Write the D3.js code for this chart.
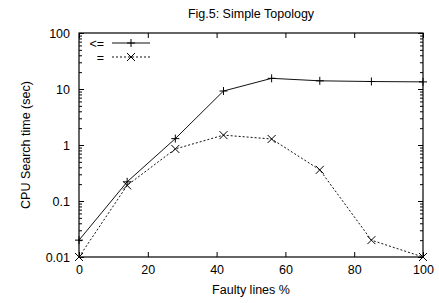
<!DOCTYPE html>
<html>
<head>
<meta charset="utf-8">
<script src="https://cdn.jsdelivr.net/npm/d3@7"></script>
<style>
  body { margin: 0; background: #fff; }
  text { font-family: "Liberation Sans", Arial, sans-serif; fill: #000; }
</style>
</head>
<body>
<svg id="chart" width="439" height="303"></svg>
<script>
// data
const faulty = [0, 14, 28, 42, 56, 70, 85, 100];
const lessEq = [0.02, 0.22, 1.3, 9.2, 15.5, 14, 13.6, 13.4];
const equal = [0.01, 0.19, 0.85, 1.5, 1.28, 0.36, 0.02, 0.01];
const xTicks = [0, 20, 40, 60, 80, 100];
const yTicks = [0.01, 0.1, 1, 10, 100];
const seriesNames = ["<=", "="];

const fontSize = 12.5;

const svg = d3.select("#chart");
const margin = { top: 33, right: 16, bottom: 46, left: 79 };
const width = 439 - margin.left - margin.right;
const height = 303 - margin.top - margin.bottom;

const g = svg.append("g")
    .attr("transform", `translate(${margin.left}, ${margin.top})`);

const x = d3.scaleLinear().domain([0, 100]).range([0, width]);
const y = d3.scaleLog().domain([0.01, 100]).range([height, 0]);

// minor log ticks (2..9 of each decade)
const minor = [];
[0.01, 0.1, 1, 10].forEach(d => {
    for (let k = 2; k <= 9; k++) minor.push(d * k);
});

// axes: ticks pointing inward, mirrored on top/right
g.append("g")
    .attr("transform", `translate(0, ${height})`)
    .call(d3.axisBottom(x).tickValues(xTicks).tickSizeInner(-5).tickSizeOuter(0).tickPadding(8));
g.append("g")
    .call(d3.axisTop(x).tickValues(xTicks).tickSizeInner(-5).tickSizeOuter(0).tickFormat(""));
g.append("g")
    .call(d3.axisLeft(y).tickValues(yTicks).tickFormat(d => String(d)).tickSizeInner(-5).tickSizeOuter(0).tickPadding(9));
g.append("g")
    .attr("transform", `translate(${width}, 0)`)
    .call(d3.axisRight(y).tickValues(yTicks).tickFormat("").tickSizeInner(-5).tickSizeOuter(0));
g.append("g")
    .call(d3.axisLeft(y).tickValues(minor).tickFormat("").tickSizeInner(-3).tickSizeOuter(0));
g.append("g")
    .attr("transform", `translate(${width}, 0)`)
    .call(d3.axisRight(y).tickValues(minor).tickFormat("").tickSizeInner(-3).tickSizeOuter(0));

g.selectAll(".domain").remove();
g.selectAll(".tick line").attr("stroke", "#000").attr("stroke-width", 1);
g.selectAll(".tick text").attr("font-size", fontSize);

g.append("rect")
    .attr("width", width)
    .attr("height", height)
    .attr("fill", "none")
    .attr("stroke", "#000")
    .attr("stroke-width", 1.2);

// series
const line = d3.line().x(d => x(d[0])).y(d => y(d[1]));
const ptsA = faulty.map((f, i) => [f, lessEq[i]]);
const ptsB = faulty.map((f, i) => [f, equal[i]]);

g.append("path")
    .datum(ptsA)
    .attr("d", line)
    .attr("fill", "none")
    .attr("stroke", "#111")
    .attr("stroke-width", 1);

g.append("path")
    .datum(ptsB)
    .attr("d", line)
    .attr("fill", "none")
    .attr("stroke", "#111")
    .attr("stroke-width", 1)
    .attr("stroke-dasharray", "2,2");

const s = 4;
function plus(sel) {
    sel.append("path").attr("d", `M${-s},0H${s}M0,${-s}V${s}`)
        .attr("stroke", "#000").attr("stroke-width", 1);
}
function cross(sel) {
    sel.append("path").attr("d", `M${-s},${-s}L${s},${s}M${-s},${s}L${s},${-s}`)
        .attr("stroke", "#000").attr("stroke-width", 1);
}

g.selectAll(".mA").data(ptsA).enter().append("g")
    .attr("transform", d => `translate(${x(d[0])}, ${y(d[1])})`)
    .each(function () { plus(d3.select(this)); });
g.selectAll(".mB").data(ptsB).enter().append("g")
    .attr("transform", d => `translate(${x(d[0])}, ${y(d[1])})`)
    .each(function () { cross(d3.select(this)); });

// legend
const legend = g.append("g").attr("transform", "translate(0, 10)");
seriesNames.forEach((name, i) => {
    const row = legend.append("g").attr("transform", `translate(0, ${i * 14})`);
    row.append("text")
        .attr("x", 25).attr("y", 4.5)
        .attr("text-anchor", "end")
        .attr("font-size", fontSize)
        .text(name);
    row.append("line")
        .attr("x1", 33).attr("x2", 71)
        .attr("stroke", "#111").attr("stroke-width", 1)
        .attr("stroke-dasharray", i === 0 ? null : "2,2");
    const m = row.append("g").attr("transform", "translate(52, 0)");
    if (i === 0) plus(m); else cross(m);
});

// titles
svg.append("text")
    .attr("x", margin.left + width / 2).attr("y", 18)
    .attr("text-anchor", "middle")
    .attr("font-size", fontSize)
    .text("Fig.5: Simple Topology");

svg.append("text")
    .attr("x", margin.left + width / 2).attr("y", 294)
    .attr("text-anchor", "middle")
    .attr("font-size", fontSize)
    .text("Faulty lines %");

svg.append("text")
    .attr("transform", `translate(30, ${margin.top + height / 2}) rotate(-90)`)
    .attr("text-anchor", "middle")
    .attr("font-size", fontSize)
    .text("CPU Search time (sec)");
</script>
</body>
</html>
